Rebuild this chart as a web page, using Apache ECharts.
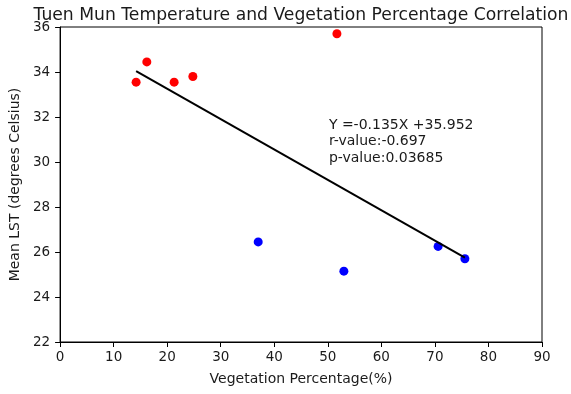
<!DOCTYPE html>
<html>
<head>
<meta charset="utf-8">
<script src="https://cdn.jsdelivr.net/npm/echarts@6/dist/echarts.min.js"></script>
<style>
  html, body { margin: 0; padding: 0; background: #fff; }
  #chart { width: 571px; height: 394px; }
</style>
</head>
<body>
<div id="chart"></div>
<script>
// Vegetation percentage (%) and mean land surface temperature (°C)
const hotVeg  = [14.2, 16.2, 21.3, 24.8, 51.7];
const hotLst  = [33.55, 34.45, 33.55, 33.8, 35.7];
const coolVeg = [37.0, 53.0, 70.6, 75.6];
const coolLst = [26.45, 25.15, 26.25, 25.7];

// Least-squares fit reported on the chart
const slope = -0.135;
const intercept = 35.952;
const rValue = '-0.697';
const pValue = '0.03685';

const xTicks = [0, 10, 20, 30, 40, 50, 60, 70, 80, 90];
const yTicks = [22, 24, 26, 28, 30, 32, 34, 36];

const allVeg = hotVeg.concat(coolVeg);
const xMin = Math.min(...allVeg);
const xMax = Math.max(...allVeg);
const fitLine = [xMin, xMax].map(x => [x, slope * x + intercept]);

const font = 'DejaVu Sans';
const textColor = '#1a1a1a';
const axisCommon = {
  axisLine: { show: true, onZero: false, lineStyle: { color: '#000', width: 1 } },
  axisTick: { show: true, inside: false, length: 5, lineStyle: { color: '#000' } },
  splitLine: { show: false },
  nameTextStyle: { color: textColor, fontFamily: font, fontSize: 14 }
};

const chart = echarts.init(document.getElementById('chart'), null, { renderer: 'canvas' });
chart.setOption({
  animation: false,
  backgroundColor: '#fff',
  title: {
    text: 'Tuen Mun Temperature and Vegetation Percentage Correlation',
    left: 296, top: 2, textAlign: 'center',
    textStyle: { fontFamily: font, fontSize: 17.2, fontWeight: 'normal', color: textColor }
  },
  grid: { left: 60, right: 29, top: 27, bottom: 52, show: true, borderColor: '#000', borderWidth: 1 },
  xAxis: Object.assign({}, axisCommon, {
    type: 'value', min: xTicks[0], max: xTicks[xTicks.length - 1], interval: 10,
    axisLabel: { color: textColor, fontFamily: font, fontSize: 13.5, margin: 8 },
    name: 'Vegetation Percentage(%)', nameLocation: 'middle', nameGap: 30
  }),
  yAxis: Object.assign({}, axisCommon, {
    type: 'value', min: yTicks[0], max: yTicks[yTicks.length - 1], interval: 2,
    axisLabel: { color: textColor, fontFamily: font, fontSize: 13.5, margin: 10 },
    name: 'Mean LST (degrees Celsius)', nameLocation: 'middle', nameGap: 38
  }),
  series: [
    {
      type: 'scatter', symbolSize: 9,
      itemStyle: { color: '#ff0000', opacity: 1 },
      data: hotVeg.map((v, i) => [v, hotLst[i]]),
      z: 3
    },
    {
      type: 'scatter', symbolSize: 9,
      itemStyle: { color: '#0000ff', opacity: 1 },
      data: coolVeg.map((v, i) => [v, coolLst[i]]),
      z: 3
    },
    {
      type: 'line', data: fitLine, symbol: 'none',
      lineStyle: { color: '#000', width: 2 },
      z: 4,
      markPoint: {
        symbol: 'rect', symbolSize: 0,
        data: [{
          coord: [50.2, 32.0],
          label: {
            show: true, position: 'right', distance: 0,
            align: 'left', verticalAlign: 'top',
            fontFamily: font, fontSize: 14, color: textColor, lineHeight: 16.5,
            formatter: 'Y =' + slope + 'X +' + intercept + '\nr-value:' + rValue + '\np-value:' + pValue
          }
        }]
      }
    }
  ]
});
</script>
</body>
</html>
